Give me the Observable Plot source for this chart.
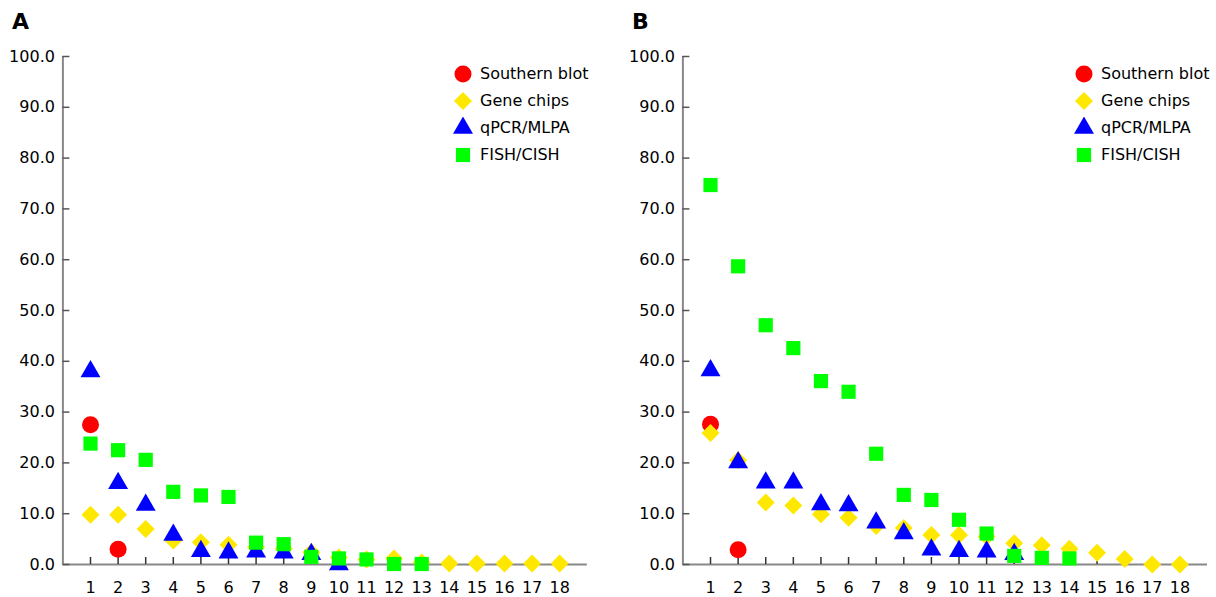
<!DOCTYPE html>
<html><head><meta charset="utf-8">
<script src="https://cdn.jsdelivr.net/npm/d3@7"></script>
<script src="https://cdn.jsdelivr.net/npm/@observablehq/plot@0.6"></script>
<style>
body{margin:0;background:#fff;font-family:"DejaVu Sans",sans-serif;}
#wrap{position:relative;width:1216px;height:597px;overflow:hidden;}
.panel{position:absolute;top:0;}
.lab{position:absolute;top:9px;font-weight:bold;font-size:22px;color:#000;}
.legend{position:absolute;top:60px;font-size:16px;color:#000;}
.item{display:flex;align-items:center;height:27px;}
.item span{margin-left:6px;white-space:nowrap;}
</style>
</head><body>
<div id="wrap"></div>
<script>
// ---- data ----
const panelLabels = ["A", "B"];
const seriesNames = ["Southern blot", "Gene chips", "qPCR/MLPA", "FISH/CISH"];
const xTicks = [1,2,3,4,5,6,7,8,9,10,11,12,13,14,15,16,17,18];
const yTicks = [0,10,20,30,40,50,60,70,80,90,100];

const southernA = [27.5, 3.0];
const geneA = [9.8, 9.8, 7.0, 4.7, 4.4, 3.9, 3.4, 3.1, 2.4, 1.4, 1.0, 1.2, 0.4, 0.2, 0.2, 0.2, 0.2, 0.2];
const qpcrA = [38.0, 16.0, 11.7, 5.8, 2.6, 2.3, 2.5, 2.3, 2.0, 0.0];
const fishA = [23.8, 22.5, 20.6, 14.3, 13.6, 13.3, 4.3, 4.0, 1.5, 1.2, 1.0, 0.1, 0.1];

const southernB = [27.6, 2.9];
const geneB = [25.9, 20.5, 12.2, 11.6, 9.9, 9.2, 7.6, 7.2, 5.8, 5.8, 5.5, 4.2, 3.8, 3.1, 2.3, 1.1, 0.0, 0.0];
const qpcrB = [38.2, 20.1, 16.1, 16.1, 11.8, 11.6, 8.2, 6.1, 2.9, 2.6, 2.5, 2.0];
const fishB = [74.7, 58.7, 47.1, 42.6, 36.1, 34.0, 21.8, 13.7, 12.7, 8.8, 6.1, 1.7, 1.3, 1.2];

// ---- styles ----
const styles = [
  {symbol: "circle",   fill: "#FF0000", r: 8.5},
  {symbol: "diamond2", fill: "#FFE800", r: 8.1},
  {symbol: "triangle", fill: "#0000FF", r: 7.4},
  {symbol: "square",   fill: "#00FF00", r: 8.0}
];
const d3sym = {circle: d3.symbolCircle, diamond2: d3.symbolDiamond2, triangle: d3.symbolTriangle, square: d3.symbolSquare};

function toPts(arr) { return arr.map((v, i) => ({x: xTicks[i], y: v})); }

function panel(seriesList, ml, mr) {
  const marks = [
    Plot.ruleY([0], {stroke: "#888", strokeWidth: 2}),
    Plot.ruleX([0], {stroke: "#888", strokeWidth: 2}),
    Plot.axisY(yTicks, {label: null, tickSize: -7, tickFormat: () => "", stroke: "#555", strokeWidth: 1.5}),
    Plot.axisY(yTicks, {label: null, tickSize: 0, tickPadding: 8, tickFormat: d => d.toFixed(1), fontSize: 16, fill: "#000"}),
    Plot.axisX(xTicks, {label: null, tickSize: -7, tickFormat: () => "", stroke: "#333", strokeWidth: 1.5}),
    Plot.axisX(xTicks, {label: null, tickSize: 0, tickPadding: 17, tickFormat: d => String(d), fontSize: 16, fill: "#000"})
  ];
  seriesList.forEach((s, k) => {
    marks.push(Plot.dot(toPts(s), {x: "x", y: "y", symbol: styles[k].symbol, fill: styles[k].fill, r: styles[k].r, stroke: "none"}));
  });
  return Plot.plot({
    width: 608, height: 597,
    marginLeft: ml, marginRight: mr, marginTop: 56, marginBottom: 33,
    x: {domain: [0, 19], label: null},
    y: {domain: [0, 100], label: null},
    style: {fontFamily: "DejaVu Sans", fontSize: "16px", background: "transparent", overflow: "visible"},
    marks
  });
}

function legend(left) {
  const div = document.createElement("div");
  div.className = "legend";
  div.style.left = left + "px";
  seriesNames.forEach((name, k) => {
    const it = document.createElement("div");
    it.className = "item";
    const svg = d3.create("svg").attr("width", 22).attr("height", 22);
    svg.append("path")
      .attr("transform", "translate(11,11)")
      .attr("d", d3.symbol(d3sym[styles[k].symbol], Math.PI * styles[k].r * styles[k].r)())
      .attr("fill", styles[k].fill);
    it.appendChild(svg.node());
    const sp = document.createElement("span");
    sp.textContent = name;
    it.appendChild(sp);
    div.appendChild(it);
  });
  return div;
}

const wrap = document.getElementById("wrap");
const cfg = [
  {left: 0, ml: 62.4, mr: 21.2, series: [southernA, geneA, qpcrA, fishA], lab: 12, leg: 452},
  {left: 608, ml: 74.4, mr: 9, series: [southernB, geneB, qpcrB, fishB], lab: 632, leg: 1073}
];
cfg.forEach((c, i) => {
  const p = panel(c.series, c.ml, c.mr);
  p.classList.add("panel");
  p.style.left = c.left + "px";
  wrap.appendChild(p);
  const l = document.createElement("div");
  l.className = "lab";
  l.style.left = c.lab + "px";
  l.textContent = panelLabels[i];
  wrap.appendChild(l);
  wrap.appendChild(legend(c.leg));
});
</script>
</body></html>
